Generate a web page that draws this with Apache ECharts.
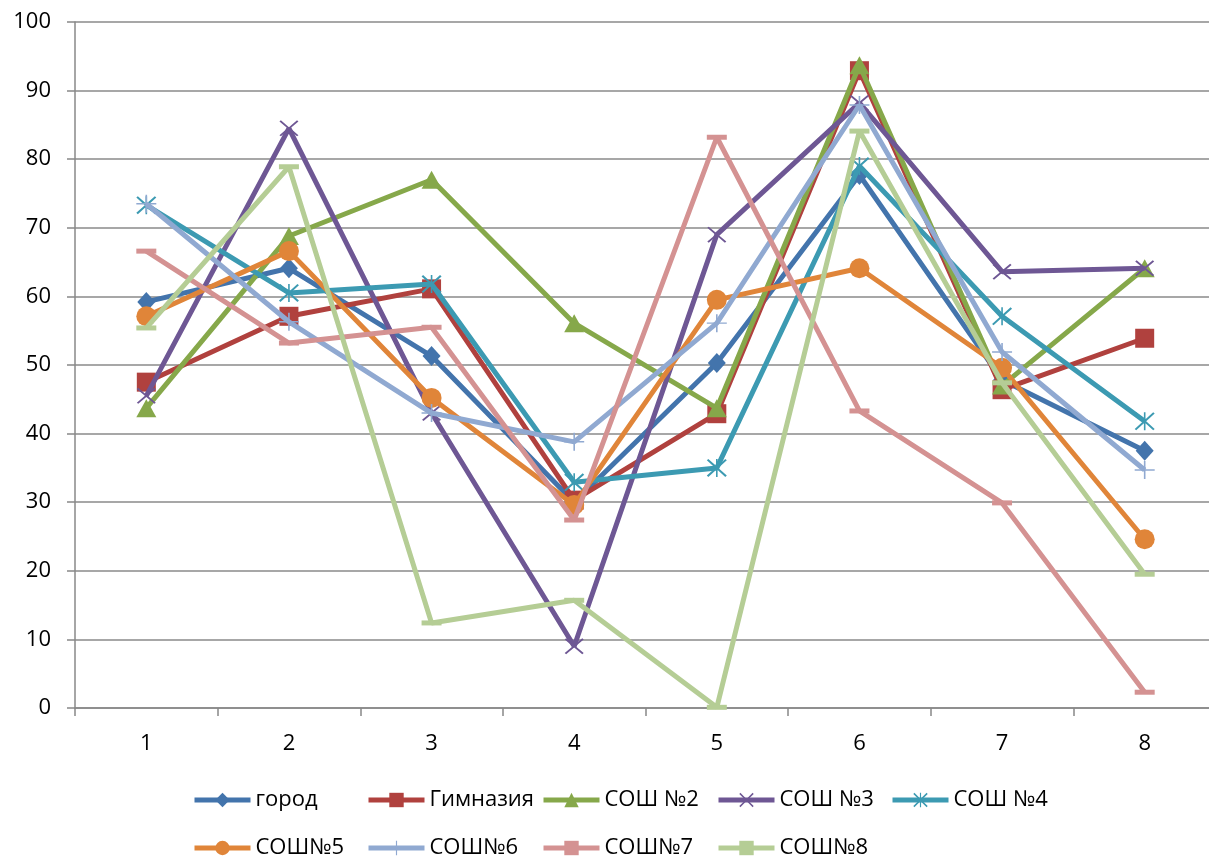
<!DOCTYPE html>
<html><head><meta charset="utf-8">
<script src="https://cdn.jsdelivr.net/npm/echarts@6/dist/echarts.min.js"></script>
<style>html,body{margin:0;padding:0;background:#fff;overflow:hidden}#c{width:1216px;height:857px}</style>
</head><body><div id="c"></div>
<script>
const categories = ['1','2','3','4','5','6','7','8'];
const seriesNames = ['город','Гимназия','СОШ №2','СОШ №3','СОШ №4','СОШ№5','СОШ№6','СОШ№7','СОШ№8'];
const gorod    = [59.2, 64.1, 51.3, 30.0, 50.3, 77.7, 47.8, 37.5];
const gimnazia = [47.5, 57.1, 61.1, 30.3, 42.9, 92.9, 46.4, 53.9];
const sosh2    = [43.7, 68.8, 77.0, 56.1, 43.7, 93.7, 47.0, 64.1];
const sosh3    = [45.5, 84.5, 43.0, 9.0, 69.0, 88.2, 63.6, 64.1];
const sosh4    = [73.3, 60.5, 61.8, 32.9, 35.0, 79.0, 57.1, 41.8];
const sosh5    = [57.1, 66.6, 45.2, 29.6, 59.5, 64.1, 49.6, 24.6];
const sosh6    = [73.5, 56.3, 43.0, 38.8, 56.1, 87.9, 51.9, 34.7];
const sosh7    = [66.6, 53.2, 55.5, 27.4, 83.2, 43.3, 29.9, 2.3];
const sosh8    = [55.4, 78.9, 12.4, 15.7, 0.1, 84.1, 47.4, 19.5];
const yTicks = [0,10,20,30,40,50,60,70,80,90,100];

const allData = [gorod, gimnazia, sosh2, sosh3, sosh4, sosh5, sosh6, sosh7, sosh8];
const colors = ['#4374AC','#B0413E','#86A84A','#6E5794','#3C9AB2','#E08539','#90A9D1','#D49292','#B5CD95'];
const X = 'path://M0,1.5 L1.5,0 L10,8.5 L18.5,0 L20,1.5 L11.5,10 L20,18.5 L18.5,20 L10,11.5 L1.5,20 L0,18.5 L8.5,10 Z';
const AST = 'path://M0,1.5 L1.5,0 L9.2,7.7 L9.2,0 L10.8,0 L10.8,7.7 L18.5,0 L20,1.5 L11.5,10 L20,18.5 L18.5,20 L10.8,12.3 L10.8,20 L9.2,20 L9.2,12.3 L1.5,20 L0,18.5 L8.5,10 Z';
const PLUS = 'path://M9.2,0 L10.8,0 L10.8,9.2 L20,9.2 L20,10.8 L10.8,10.8 L10.8,20 L9.2,20 L9.2,10.8 L0,10.8 L0,9.2 L9.2,9.2 Z';
const symbols = [
  ['diamond', [18,20]], ['rect', [19,19]], ['triangle', [20,18]], [X, [19,16]], [AST, [20,18]],
  ['circle', [20,20]], [PLUS, [20,18]], ['rect', [20,5]], ['rect', [20,5]]
];

const series = seriesNames.map((n,i)=>({
  name:n, type:'line', data: allData[i],
  symbol: symbols[i][0], symbolSize: symbols[i][1], showAllSymbol:true,
  lineStyle:{width:5, color:colors[i]},
  itemStyle:{color:colors[i]},
  emphasis:{disabled:true},
  animation:false, z: 2 + i
}));

const FONT = 'Open Sans';
const legendLefts = [192, 366, 541, 716, 890, 192, 366, 541, 716];
const legendTops  = [788, 788, 788, 788, 788, 836, 836, 836, 836];
const legends = seriesNames.map((n,i)=>({
  left: legendLefts[i], top: legendTops[i], padding:0,
  itemWidth:56, itemHeight:18, itemGap:0,
  data:[n], selectedMode:false,
  lineStyle:{width:5},
  textStyle:{fontFamily:FONT, fontSize:22, color:'#000', lineHeight:24}
}));

const chart = echarts.init(document.getElementById('c'), null, {renderer:'canvas'});
chart.setOption({
  animation:false,
  color: colors,
  grid:{left:75, right:0, top:22, bottom:149, containLabel:false},
  legend: legends,
  xAxis:{type:'category', data:categories, boundaryGap:true,
    axisLine:{lineStyle:{color:'#888', width:1.5}},
    axisTick:{show:true, length:8, lineStyle:{color:'#888', width:1.5}},
    axisLabel:{fontFamily:FONT, fontSize:22, color:'#000', margin:25}},
  yAxis:{type:'value', min:yTicks[0], max:yTicks[yTicks.length-1], interval:10,
    axisLine:{show:true, lineStyle:{color:'#888', width:1.5}},
    axisTick:{show:true, length:8, lineStyle:{color:'#888', width:1.5}},
    splitLine:{lineStyle:{color:'#8a8a8a', width:1.5}},
    axisLabel:{fontFamily:FONT, fontSize:22, color:'#000', margin:24}},
  series: series
});
</script></body></html>
